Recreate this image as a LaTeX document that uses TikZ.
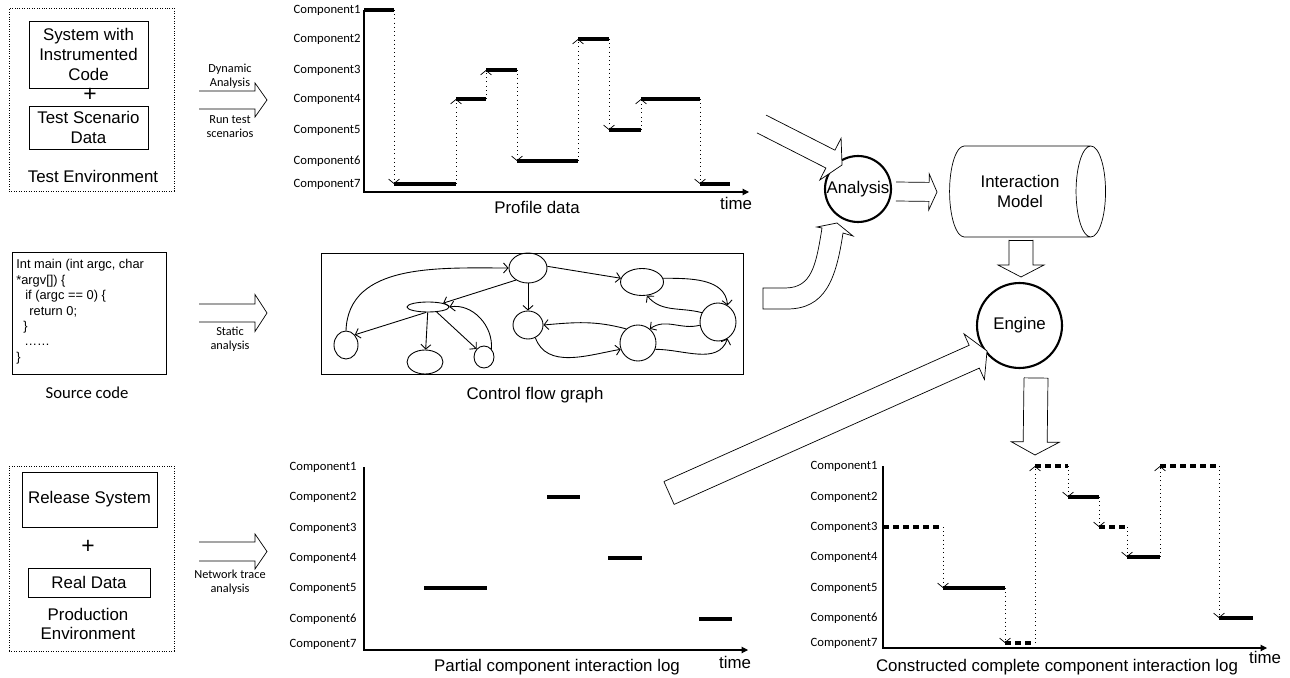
\documentclass[tikz,border=0pt]{standalone}
\usepackage{fontspec}
\setmainfont{Liberation Sans}
\newfontfamily\calfont{Carlito}
\usetikzlibrary{calc,arrows.meta,shapes.geometric}

\newcommand{\capfont}{\fontsize{9.6}{11.6}\selectfont}
\newcommand{\notefont}{\calfont\fontsize{7}{8}\selectfont}
\newcommand{\complbl}{\calfont\fontsize{7.2}{8}\selectfont}
\newcommand{\codefont}{\fontsize{7.3}{8.8}\selectfont}

% hollow block arrow: tail, tip, half shaft, half head, head length
\newcommand{\blockarrow}[5]{%
  \coordinate (ba-h) at ($(#2)!#5!(#1)$);
  \draw[fill=white] ($(#1)!#3!90:(#2)$) coordinate (ba-l)
    -- ($(ba-h)!#3!90:(#2)$) -- ($(ba-h)!#4!90:(#2)$) -- (#2)
    -- ($(ba-h)!#4!-90:(#2)$) -- ($(ba-h)!#3!-90:(#2)$)
    -- ($(#1)!#3!-90:(#2)$) coordinate (ba-r);}

\tikzset{
  envbox/.style={draw, densely dotted, inner sep=0pt},
  itembox/.style={draw, inner sep=0pt, align=center, font=\capfont},
  lbl/.style={font=\complbl, anchor=east, inner sep=0pt},
  axis/.style={-{Triangle[length=1.3mm,width=1.3mm]}, line width=0.6pt},
  seg/.style={line width=1.8pt},
  dseg/.style={line width=1.8pt, dash pattern=on 3.4pt off 2.3pt},
  jump/.style={dotted, line width=0.4pt, -{Straight Barb[length=0.9mm,width=2.2mm]}},
  cfgnode/.style={ellipse, draw, inner sep=0pt, line width=0.5pt},
  edge/.style={line width=0.5pt, -{Straight Barb[length=0.9mm,width=2mm]}},
  hub/.style={circle, draw, line width=1.2pt, inner sep=0pt, font=\capfont},
  note/.style={font=\notefont, align=center, inner sep=0pt},
}

\begin{document}
\begin{tikzpicture}[x=0.02cm, y=-0.02cm, font=\capfont]
\useasboundingbox (0,0) rectangle (1290,678);

% Test environment
\node[envbox, minimum width=3.3cm, minimum height=3.66cm] (testenv) at (91.5,99.5) {};
\node[itembox, minimum width=2.38cm, minimum height=1.34cm] (sysbox) at (88.5,54.5) {System with\\Instrumented\\Code};
\node[font=\fontsize{13}{13}\selectfont] (plus1) at (90,95) {+};
\node[itembox, minimum width=2.38cm, minimum height=0.86cm] (scenbox) at (88.5,127.5) {Test Scenario\\Data};
\node (testlbl) at (93,176) {Test Environment};

% Source code
\node[draw, minimum width=3.08cm, minimum height=2.44cm, inner sep=0pt] (srcbox) at (89,313) {};
\node[font=\codefont, align=left, anchor=north west, inner sep=0pt] (code) at (16,259)
  {Int main (int argc, char\\*argv[]) \{\\\hspace*{1.8mm}if (argc == 0) \{\\
   \hspace*{2.6mm}return 0;\\\hspace*{1.4mm}\}\\\hspace*{1.6mm}……\\\}};
\node[font=\calfont\fontsize{9.5}{11}\selectfont] (srclbl) at (87,393) {Source code};

% Production environment
\node[envbox, minimum width=3.3cm, minimum height=3.7cm] (prodenv) at (91.5,558.5) {};
\node[itembox, minimum width=2.7cm, minimum height=1.1cm] (relbox) at (89.5,499.5) {Release System};
\node[font=\fontsize{13}{13}\selectfont] (plus2) at (88,547) {+};
\node[itembox, minimum width=2.44cm, minimum height=0.58cm] (databox) at (89,582.5) {Real Data};
\node[align=center, font=\fontsize{9.6}{10.8}\selectfont] (prodlbl) at (88,623.5) {Production\\Environment};

% analysis arrows
\coordinate (dyn-a) at (199,100); \coordinate (dyn-b) at (267,100);
\blockarrow{dyn-a}{dyn-b}{0.18cm}{0.34cm}{0.24cm}
\node[note] (dynlbl) at (230,76.5) {Dynamic\\Analysis};
\node[note] (runlbl) at (230,126.5) {Run test\\scenarios};

\coordinate (sta-a) at (199,313); \coordinate (sta-b) at (267,313);
\blockarrow{sta-a}{sta-b}{0.18cm}{0.37cm}{0.24cm}
\node[note] (stalbl) at (230,339.5) {Static\\analysis};

\coordinate (net-a) at (199,551.5); \coordinate (net-b) at (267,551.5);
\blockarrow{net-a}{net-b}{0.19cm}{0.35cm}{0.24cm}
\node[note] (netlbl) at (230,582.5) {Network trace\\analysis};

% Profile data
\foreach \i/\y in {1/10,2/39,3/70,4/99,5/130,6/161,7/184}
  \node[lbl] (p\i) at (361,\y) {Component\i};
\foreach \x/\f/\t in {394/10/184, 456/184/99, 486/99/70, 517/70/161, 578/161/39, 609/39/130, 641/130/99, 700/99/184}
  \draw[jump] (\x,\f) -- (\x,\t);
\foreach \a/\b/\y in {364/394/10, 394/456/184, 456/486/99, 486/517/70, 517/578/161, 578/609/39, 609/641/130, 641/700/99, 700/730/184}
  \draw[seg] (\a,\y) -- (\b,\y);
\draw[axis] (364,10) -- (364,192) -- (749,192);
\node (proflbl) at (537,207) {Profile data};
\node (ptime) at (736,203) {time};

% Control flow graph
\node[draw, minimum width=8.44cm, minimum height=2.42cm, inner sep=0pt] (cfg) at (532,313.5) {};
\node[cfgnode, minimum width=0.76cm, minimum height=0.6cm] (cA) at (528,268) {};
\node[cfgnode, minimum width=0.86cm, minimum height=0.54cm] (cB) at (642,282) {};
\node[cfgnode, minimum width=0.84cm, minimum height=0.2cm] (cC) at (428,307) {};
\node[cfgnode, minimum width=0.6cm, minimum height=0.56cm] (cD) at (528,325) {};
\node[cfgnode, minimum width=0.72cm, minimum height=0.76cm] (cE) at (718,322) {};
\node[cfgnode, minimum width=0.72cm, minimum height=0.72cm] (cF) at (638,343) {};
\node[cfgnode, minimum width=0.48cm, minimum height=0.56cm] (cG) at (346,345) {};
\node[cfgnode, minimum width=0.72cm, minimum height=0.48cm] (cH) at (425,362) {};
\node[cfgnode, minimum width=0.4cm, minimum height=0.44cm] (cI) at (484,357) {};
\draw[edge] (cG.north) to[out=88,in=180] (cA.west);
\draw[edge] (cA.225) -- (cC.north east);
\draw[edge] (cA.south) -- (cD.north);
\draw[edge] (cA.5) -- (cB.170);
\draw[edge] (cC.-110) -- (cG.north east);
\draw[edge] (cC) -- (cH);
\draw[edge] (cC.-30) -- (cI.north west);
\draw[edge] (cI.north east) to[out=85,in=10] (cC.east);
\draw[edge] (cB.10) to[out=0,in=95] (cE.60);
\draw[edge] (cE.150) to[out=165,in=-50] (cB.-70);
\draw[edge] (cE.190) to[out=195,in=35] (cF.50);
\draw[edge] (cF.-20) to[out=0,in=-110] (cE.-60);
\draw[edge] (cF.130) to[out=165,in=5] (cD.east);
\draw[edge] (cD.-60) to[out=-70,in=190] (cF.200);
\node (cfglbl) at (535,395) {Control flow graph};

% Partial log
\foreach \i/\y in {1/467,2/497,3/528,4/558,5/588,6/619,7/644}
  \node[lbl] (q\i) at (357,\y) {Component\i};
\foreach \a/\b/\y in {424/487/588, 547/580/497, 608/642/558, 699/732/619}
  \draw[seg] (\a,\y) -- (\b,\y);
\draw[axis] (364,467) -- (364,650) -- (748,650);
\node (partlbl) at (557,667) {Partial component interaction log};
\node (qtime) at (735,662) {time};

% Constructed log
\foreach \i/\y in {1/466,2/497,3/527,4/557,5/588,6/618,7/643}
  \node[lbl] (r\i) at (878,\y) {Component\i};
\foreach \x/\f/\t in {943/527/588, 1005/588/643, 1035/643/466, 1068/466/497, 1099/497/527, 1127/527/557, 1160/557/466, 1219/466/618}
  \draw[jump] (\x,\f) -- (\x,\t);
\foreach \a/\b/\y in {943/1005/588, 1068/1099/497, 1127/1160/557, 1219/1253/618}
  \draw[seg] (\a,\y) -- (\b,\y);
\foreach \a/\b/\y in {883/943/527, 1005/1035/643, 1035/1068/466, 1099/1127/527, 1160/1219/466}
  \draw[dseg] (\a,\y) -- (\b,\y);
\draw[axis] (883,466) -- (883,648) -- (1267,648);
\node (conslbl) at (1057,667) {Constructed complete component interaction log};
\node (rtime) at (1265,657) {time};

% Analysis, model, engine
\node[hub, minimum size=1.32cm] (analysis) at (858,189) {Analysis};
\node[cylinder, draw, aspect=0.9, minimum height=3.12cm, minimum width=1.82cm,
  inner sep=0pt, align=center] (model) at (1020,191.5) {Interaction\\Model};
\node[hub, minimum size=1.7cm] (engine) at (1019.5,325.5) {Engine};

\coordinate (prof-a) at (761.5,124); \coordinate (prof-b) at (842,165);
\blockarrow{prof-a}{prof-b}{0.2cm}{0.47cm}{0.26cm}

\coordinate (ana-a) at (896,191.5); \coordinate (ana-b) at (937,192);
\blockarrow{ana-a}{ana-b}{0.19cm}{0.36cm}{0.16cm}

\coordinate (mod-a) at (1021,240); \coordinate (mod-b) at (1021,277);
\blockarrow{mod-a}{mod-b}{0.24cm}{0.46cm}{0.24cm}
\draw (ba-l) -- (ba-r);

\coordinate (eng-a) at (1036,378); \coordinate (eng-b) at (1035,455);
\blockarrow{eng-a}{eng-b}{0.24cm}{0.48cm}{0.26cm}
\draw (ba-l) -- (ba-r);

\coordinate (part-a) at (669,493); \coordinate (part-b) at (987,351);
\blockarrow{part-a}{part-b}{0.25cm}{0.5cm}{0.28cm}
\draw (ba-l) -- (ba-r);

% curved arrow from the graph
\draw[fill=white] (763,288) -- (785,288) .. controls (812,288) and (816,265) .. (822,228)
  -- (817,227) -- (837,223) -- (853,236) -- (843,233)
  .. controls (836,280) and (825,309) .. (787,309) -- (763,309) -- cycle;
\end{tikzpicture}
\end{document}
